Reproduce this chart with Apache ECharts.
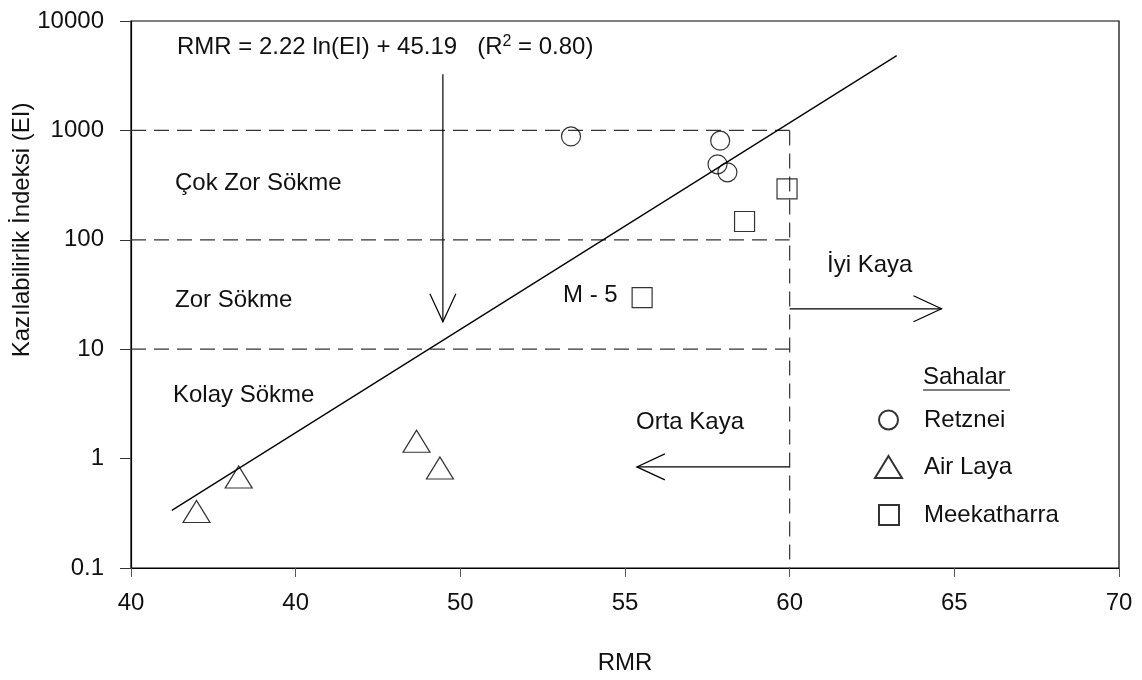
<!DOCTYPE html>
<html><head><meta charset="utf-8">
<script src="https://cdn.jsdelivr.net/npm/echarts@6/dist/echarts.min.js"></script>
<style>html,body{margin:0;padding:0;background:#fff}#c{width:1142px;height:680px}</style>
</head><body><div id="c"></div>
<script>
// ---- data ----
const xTickLabels = ['40', '40', '50', '55', '60', '65', '70'];
const yTickValues = [0.1, 1, 10, 100, 1000, 10000];
const retznei = [[53.36, 880], [57.89, 805], [57.81, 490], [58.11, 414]];
const airLaya = [[41.99, 0.329], [43.27, 0.68], [48.67, 1.44], [49.38, 0.82]];
const meekatharra = [[59.92, 292], [58.63, 147], [55.52, 29.6]];
const fitLine = [[41.24, 0.336], [63.25, 4820]];
const classLevels = [1000, 100, 10];
const boundaryRMR = 60;
const leftRMR = 40;
const bottomEI = 0.1;
// arrows: [x1, y1, x2(tip), y2(tip)]
const arrows = [[49.47, 3260, 49.47, 17.8], [60, 23.4, 64.61, 23.4], [60, 0.84, 55.36, 0.84]];

// ---- build segment table ----
const segments = [];
classLevels.forEach(v => segments.push([leftRMR, v, boundaryRMR, v, 0]));
segments.push([boundaryRMR, classLevels[0], boundaryRMR, bottomEI, 0]);
arrows.forEach(a => segments.push([a[0], a[1], a[2], a[3], 1]));

const FONT = 'Liberation Sans, Arial, sans-serif';
const FS = 24;
const markerStyle = { color: 'rgba(0,0,0,0)', borderColor: '#000', borderWidth: 1.2 };

const chart = echarts.init(document.getElementById('c'), null, { renderer: 'canvas' });

function renderSeg(params, api) {
  const p1 = api.coord([api.value(0), api.value(1)]);
  const p2 = api.coord([api.value(2), api.value(3)]);
  const kind = api.value(4);
  const children = [];
  if (kind === 0) {
    children.push({ type: 'line', shape: { x1: p1[0], y1: p1[1], x2: p2[0], y2: p2[1] },
      style: { stroke: '#333', lineWidth: 1.2, lineDash: [15, 8] } });
  } else {
    children.push({ type: 'line', shape: { x1: p1[0], y1: p1[1], x2: p2[0], y2: p2[1] },
      style: { stroke: '#000', lineWidth: 1.2 } });
    const dx = p2[0] - p1[0], dy = p2[1] - p1[1];
    const len = Math.sqrt(dx * dx + dy * dy);
    const ux = dx / len, uy = dy / len;
    const L = 28, W = 13;
    children.push({ type: 'polyline', shape: { points: [
      [p2[0] - L * ux - W * uy, p2[1] - L * uy + W * ux],
      [p2[0], p2[1]],
      [p2[0] - L * ux + W * uy, p2[1] - L * uy - W * ux]] },
      style: { stroke: '#000', lineWidth: 1.2, fill: null } });
  }
  return { type: 'group', children };
}

function legendCfg(name, left, top, w, h, pad) {
  return {
    data: [name], orient: 'vertical', left, top, padding: 0,
    itemWidth: w, itemHeight: h, selectedMode: false,
    textStyle: { fontFamily: FONT, fontSize: FS, color: '#111', padding: [0, 0, 0, pad] }
  };
}

const txt = (t, x, y, extra) => Object.assign({
  type: 'text', x, y,
  style: Object.assign({ text: t, font: FS + 'px ' + FONT, fill: '#111', textVerticalAlign: 'middle' }, extra || {})
});

chart.setOption({
  animation: false,
  backgroundColor: '#fff',
  grid: { left: 131, right: 23, top: 21, bottom: 112, show: true, borderColor: '#000', borderWidth: 1.2, containLabel: false },
  xAxis: {
    type: 'value', min: 40, max: 70, interval: 5,
    name: 'RMR', nameLocation: 'middle', nameGap: 83,
    nameTextStyle: { fontFamily: FONT, fontSize: FS, color: '#111' },
    axisLine: { lineStyle: { color: '#000', width: 1.2 } },
    axisTick: { show: true, length: 9, lineStyle: { color: '#555' } },
    splitLine: { show: false },
    axisLabel: { fontFamily: FONT, fontSize: FS, color: '#111', margin: 23,
      formatter: v => xTickLabels[Math.round((v - 40) / 5)] }
  },
  yAxis: {
    type: 'log', logBase: 10, min: yTickValues[0], max: yTickValues[yTickValues.length - 1], interval: 1,
    axisLine: { show: true, lineStyle: { color: '#000', width: 1.2 } },
    axisTick: { show: true, length: 11, lineStyle: { color: '#333' } },
    splitLine: { show: false }, minorTick: { show: false },
    axisLabel: { fontFamily: FONT, fontSize: FS, color: '#111', margin: 27,
      formatter: v => String(yTickValues.find(t => Math.abs(Math.log10(t) - Math.log10(v)) < 1e-6) ?? v) }
  },
  legend: [
    legendCfg('Retznei', 878, 408, 19, 19, 21),
    legendCfg('Air Laya', 874, 455, 27, 22, 17),
    legendCfg('Meekatharra', 878, 503, 20, 20, 20)
  ],
  graphic: [
    { type: 'text', x: 177, y: 47, style: {
        text: '{a|RMR = 2.22 ln(EI) + 45.19   (R}{s|2}{a| = 0.80)}',
        rich: { a: { font: FS + 'px ' + FONT, fill: '#111' }, s: { font: '16px ' + FONT, fill: '#111', verticalAlign: 'top', padding: [0, 0, 10, 0] } },
        textVerticalAlign: 'middle' } },
    txt('Çok Zor Sökme', 175, 183),
    txt('Zor Sökme', 175, 300),
    txt('Kolay Sökme', 173, 395),
    txt('M - 5', 563, 295),
    txt('İyi Kaya', 827, 265),
    txt('Orta Kaya', 636, 422),
    txt('Sahalar', 923, 377),
    { type: 'line', shape: { x1: 923, y1: 390, x2: 1010, y2: 390 }, style: { stroke: '#000', lineWidth: 1.2 } },
    { type: 'text', x: 22, y: 230, rotation: Math.PI / 2, style: {
        text: 'Kazılabilirlik İndeksi (EI)', font: FS + 'px ' + FONT, fill: '#111', textAlign: 'center', textVerticalAlign: 'middle' } }
  ],
  series: [
    { name: 'fit', type: 'line', data: fitLine, symbol: 'none', lineStyle: { color: '#000', width: 1.3 }, silent: true, z: 3 },
    { name: 'annot', type: 'custom', renderItem: renderSeg, data: segments, encode: { x: [0, 2], y: [1, 3] }, silent: true, z: 2 },
    { name: 'Retznei', type: 'scatter', data: retznei, symbol: 'circle', symbolSize: 19, itemStyle: markerStyle, z: 4 },
    { name: 'Air Laya', type: 'scatter', data: airLaya, symbol: 'triangle', symbolSize: [27, 22], itemStyle: markerStyle, z: 4 },
    { name: 'Meekatharra', type: 'scatter', data: meekatharra, symbol: 'rect', symbolSize: 20, itemStyle: markerStyle, z: 4 }
  ]
});
</script></body></html>
